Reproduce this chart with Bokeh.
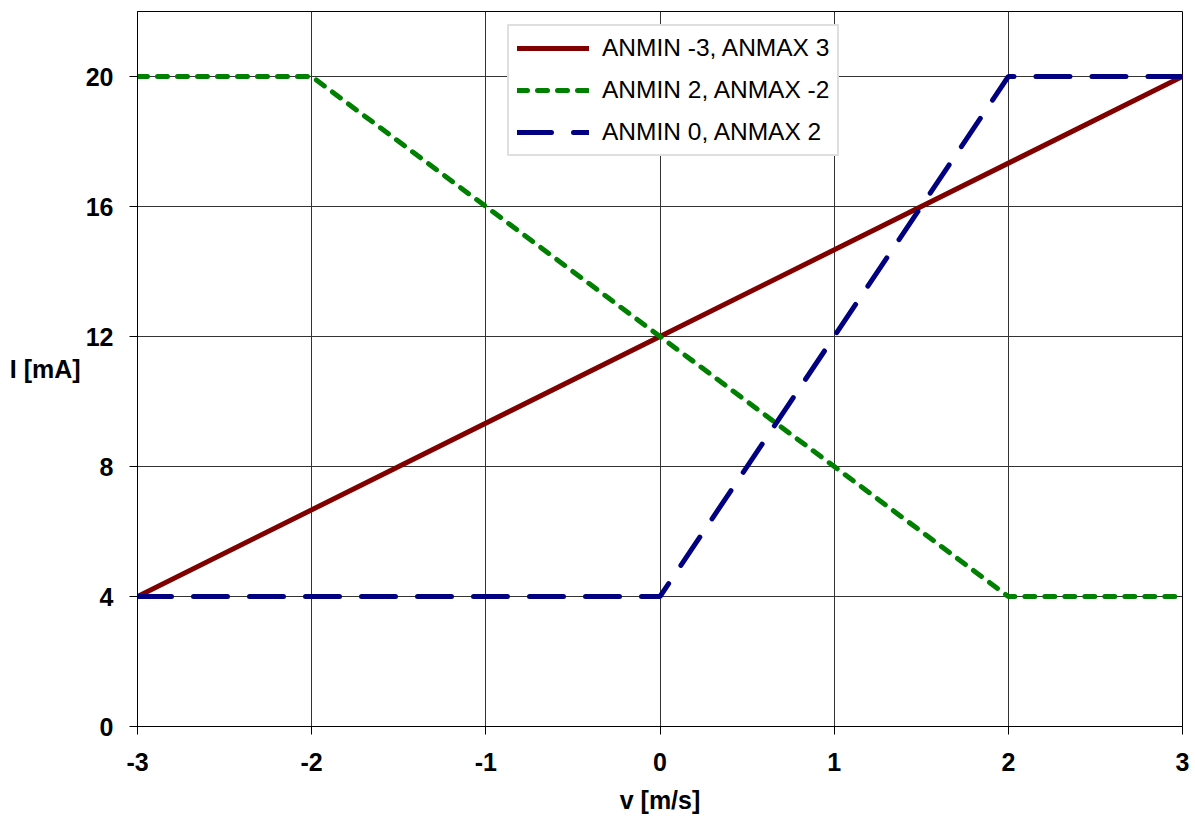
from bokeh.plotting import figure
from bokeh.models import Range1d, FixedTicker, Legend, LegendItem
from bokeh.embed import file_html
from bokeh.resources import INLINE

# Data
x_red = [-3, 3]
y_red = [4, 20]
x_green = [-3, -2, 2, 3]
y_green = [20, 20, 4, 4]
x_blue = [-3, 0, 2, 3]
y_blue = [4, 4, 20, 20]
labels = ["ANMIN -3, ANMAX 3", "ANMIN 2, ANMAX -2", "ANMIN 0, ANMAX 2"]
x_ticks = [-3, -2, -1, 0, 1, 2, 3]
y_ticks = [0, 4, 8, 12, 16, 20]

FONT = "Liberation Sans"

p = figure(width=1190, height=816, output_backend="svg", toolbar_location=None,
           x_range=Range1d(-3, 3), y_range=Range1d(0, 22),
           min_border_left=137, min_border_right=8, min_border_top=11, min_border_bottom=83)
p.background_fill_color = "white"
p.border_fill_color = "white"
p.outline_line_color = "black"
p.outline_line_width = 1

for ax in (p.xaxis[0], p.yaxis[0]):
    ax.major_label_text_font = FONT
    ax.major_label_text_font_style = "bold"
    ax.major_label_text_font_size = "25px"
    ax.major_label_text_color = "black"
    ax.axis_line_color = "black"
    ax.major_tick_line_color = "black"
    ax.major_tick_out = 8
    ax.major_tick_in = 0
    ax.minor_tick_line_color = None
    ax.axis_label_text_font = FONT
    ax.axis_label_text_font_style = "bold"
    ax.axis_label_text_font_size = "25px"
    ax.axis_label_text_color = "black"

p.xaxis[0].ticker = FixedTicker(ticks=x_ticks)
p.yaxis[0].ticker = FixedTicker(ticks=y_ticks)
p.xaxis[0].major_label_overrides = {t: str(t) for t in x_ticks}
p.yaxis[0].major_label_overrides = {t: str(t) for t in y_ticks}
p.xaxis[0].major_label_standoff = 18
p.yaxis[0].major_label_standoff = 16
p.xaxis[0].axis_label = "v [m/s]"
p.xaxis[0].axis_label_standoff = 12
p.yaxis[0].axis_label = "I [mA]"
p.yaxis[0].axis_label_orientation = "horizontal"
p.yaxis[0].axis_label_standoff = 2

for g in (p.xgrid[0], p.ygrid[0]):
    g.grid_line_color = "#333333"
    g.grid_line_width = 1

r1 = p.line(x_red, y_red, line_color="#800000", line_width=5, line_cap="round")
r2 = p.line(x_green, y_green, line_color="#008000", line_width=5, line_cap="round",
            line_dash="10 10")
r3 = p.line(x_blue, y_blue, line_color="#000080", line_width=5, line_cap="round",
            line_dash="34 22")

legend = Legend(items=[LegendItem(label=labels[0], renderers=[r1]),
                       LegendItem(label=labels[1], renderers=[r2]),
                       LegendItem(label=labels[2], renderers=[r3])],
                location=(370, 570), orientation="vertical",
                label_text_font=FONT, label_text_font_size="24.5px", label_text_color="black",
                glyph_width=72, glyph_height=26, label_height=26, label_standoff=13,
                spacing=14, padding=8, margin=0,
                border_line_color="#c0c0c0", border_line_width=2,
                background_fill_color="white", background_fill_alpha=1)
p.add_layout(legend, "center")

open("out.html", "w").write(file_html(p, INLINE))
